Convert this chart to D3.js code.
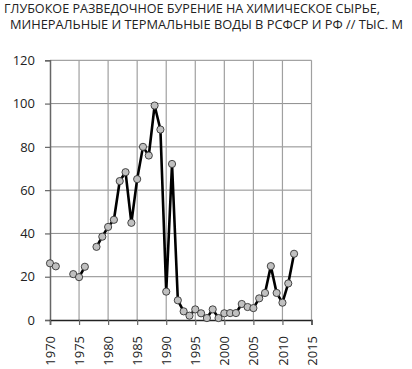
<!DOCTYPE html>
<html>
<head>
<meta charset="utf-8">
<script src="https://cdn.jsdelivr.net/npm/d3@7"></script>
<style>
  body { margin: 0; background: #fff; }
  svg { display: block; font-family: "Open Sans", sans-serif; }
</style>
</head>
<body>
<div id="chart"></div>
<script>
    var width = 412,
        height = 369;

    var titleLines = ['ГЛУБОКОЕ РАЗВЕДОЧНОЕ БУРЕНИЕ НА ХИМИЧЕСКОЕ СЫРЬЕ,',
        'МИНЕРАЛЬНЫЕ И ТЕРМАЛЬНЫЕ ВОДЫ В РСФСР И РФ // ТЫС. М'];

    var years = [1970, 1971, 1972, 1973, 1974, 1975, 1976, 1977, 1978, 1979,
        1980, 1981, 1982, 1983, 1984, 1985, 1986, 1987, 1988, 1989,
        1990, 1991, 1992, 1993, 1994, 1995, 1996, 1997, 1998, 1999,
        2000, 2001, 2002, 2003, 2004, 2005, 2006, 2007, 2008, 2009,
        2010, 2011, 2012];

    var values = [26.2, 24.8, null, null, 21.2, 19.8, 24.6, null, 33.8, 38.5,
        43, 46.3, 64.2, 68.3, 44.9, 65.1, 80, 76, 99.1, 88,
        13.1, 72.1, 9.1, 4, 2, 4.9, 3.1, 0.9, 4.9, 0.9,
        3.1, 3.2, 3.2, 7.4, 6, 5.5, 10, 12.5, 24.9, 12.5,
        8, 16.9, 30.6];

    var xTicks = [1970, 1975, 1980, 1985, 1990, 1995, 2000, 2005, 2010, 2015];
    var yTicks = [0, 20, 40, 60, 80, 100, 120];

    var data = years.map(function (y, i) {
        return { year: y, value: values[i] };
    });

    var svg = d3.select('#chart')
        .append('svg')
        .attr('width', width)
        .attr('height', height);

    var x = d3.scaleLinear().domain([1970, 2015]).range([50, 311.5]);
    var y = d3.scaleLinear().domain([0, 120]).range([320, 60.3]);

    // title, two lines
    svg.selectAll('.title')
        .data(titleLines)
        .enter()
        .append('text')
        .attr('class', 'title')
        .attr('x', function (d, i) { return i === 0 ? 4 : 10; })
        .attr('y', function (d, i) { return i === 0 ? 13 : 29; })
        .attr('textLength', function (d, i) { return i === 0 ? 376 : 393; })
        .attr('lengthAdjust', 'spacingAndGlyphs')
        .style('font-size', '12px')
        .style('fill', '#222')
        .text(function (d) { return d; });

    // grid
    svg.append('g')
        .selectAll('line')
        .data(yTicks.slice(1))
        .enter()
        .append('line')
        .attr('x1', x(1970))
        .attr('x2', x(2015))
        .attr('y1', function (d) { return y(d); })
        .attr('y2', function (d) { return y(d); })
        .attr('stroke', '#8c8c8c')
        .attr('stroke-width', 1);

    svg.append('g')
        .selectAll('line')
        .data(xTicks.slice(1))
        .enter()
        .append('line')
        .attr('x1', function (d) { return x(d); })
        .attr('x2', function (d) { return x(d); })
        .attr('y1', y(0))
        .attr('y2', y(120))
        .attr('stroke', '#a0a0a0')
        .attr('stroke-width', 1.2);

    // axes
    var yAxis = svg.append('g')
        .attr('transform', 'translate(' + x(1970) + ',0)')
        .call(d3.axisLeft(y).tickValues(yTicks).tickSize(5).tickPadding(10));

    var xAxis = svg.append('g')
        .attr('transform', 'translate(0,' + y(0) + ')')
        .call(d3.axisBottom(x).tickValues(xTicks).tickSize(5).tickFormat(d3.format('d')));

    xAxis.selectAll('text')
        .attr('transform', 'rotate(-90)')
        .attr('x', -16)
        .attr('y', 0)
        .attr('dy', '0.35em')
        .style('text-anchor', 'end');

    [yAxis, xAxis].forEach(function (a) {
        a.select('.domain').attr('stroke', '#666').attr('stroke-width', 1.5);
        a.selectAll('.tick line').attr('stroke', '#666').attr('stroke-width', 1.2);
        a.selectAll('text')
            .style('font-size', '13px')
            .style('font-family', '"Open Sans", sans-serif')
            .style('fill', '#222');
    });
    xAxis.select('.domain').attr('stroke', '#222');

    // line
    var line = d3.line()
        .defined(function (d) { return d.value !== null; })
        .x(function (d) { return x(d.year); })
        .y(function (d) { return y(d.value); });

    svg.append('path')
        .datum(data)
        .attr('d', line)
        .attr('fill', 'none')
        .attr('stroke', '#000')
        .attr('stroke-width', 2.6)
        .attr('stroke-linejoin', 'round');

    svg.append('g')
        .selectAll('circle')
        .data(data.filter(function (d) { return d.value !== null; }))
        .enter()
        .append('circle')
        .attr('cx', function (d) { return x(d.year); })
        .attr('cy', function (d) { return y(d.value); })
        .attr('r', 3.6)
        .attr('fill', '#c0c0c0')
        .attr('stroke', '#333')
        .attr('stroke-width', 0.9);
</script>
</body>
</html>
